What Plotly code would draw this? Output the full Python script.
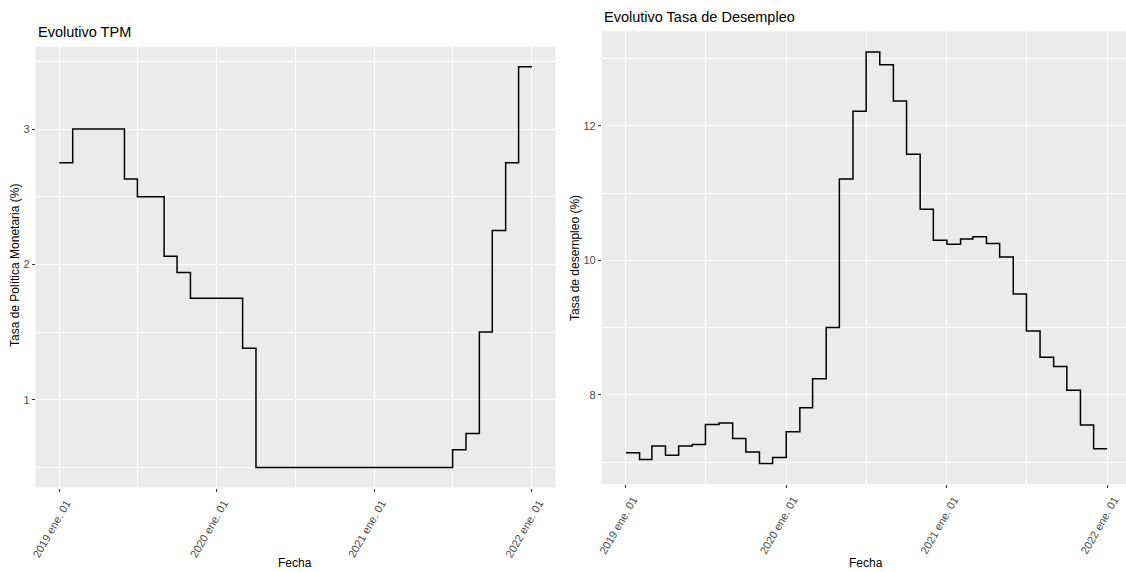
import pandas as pd
import plotly.graph_objects as go

# ---------------- data ----------------
fechas = [
    "2019-01-01", "2019-02-01", "2019-03-01", "2019-04-01", "2019-05-01", "2019-06-01",
    "2019-07-01", "2019-08-01", "2019-09-01", "2019-10-01", "2019-11-01", "2019-12-01",
    "2020-01-01", "2020-02-01", "2020-03-01", "2020-04-01", "2020-05-01", "2020-06-01",
    "2020-07-01", "2020-08-01", "2020-09-01", "2020-10-01", "2020-11-01", "2020-12-01",
    "2021-01-01", "2021-02-01", "2021-03-01", "2021-04-01", "2021-05-01", "2021-06-01",
    "2021-07-01", "2021-08-01", "2021-09-01", "2021-10-01", "2021-11-01", "2021-12-01",
    "2022-01-01",
]

tpm = [
    2.75, 3.00, 3.00, 3.00, 3.00, 2.63, 2.50, 2.50, 2.06, 1.94, 1.75, 1.75,
    1.75, 1.75, 1.38, 0.50, 0.50, 0.50, 0.50, 0.50, 0.50, 0.50, 0.50, 0.50,
    0.50, 0.50, 0.50, 0.50, 0.50, 0.50, 0.63, 0.75, 1.50, 2.25, 2.75, 3.46,
    3.46,
]

desempleo = [
    7.14, 7.04, 7.24, 7.10, 7.24, 7.26, 7.56, 7.58, 7.35, 7.15, 6.98, 7.07,
    7.45, 7.81, 8.24, 9.00, 11.21, 12.22, 13.10, 12.91, 12.37, 11.58, 10.76, 10.30,
    10.24, 10.32, 10.35, 10.25, 10.05, 9.50, 8.95, 8.56, 8.42, 8.07, 7.55, 7.20,
    7.20,
]

tick_fechas = ["2019-01-01", "2020-01-01", "2021-01-01", "2022-01-01"]
tick_labels = ["2019 ene. 01", "2020 ene. 01", "2021 ene. 01", "2022 ene. 01"]
minor_fechas = ["2019-07-01", "2020-07-01", "2021-07-01"]

tpm_yticks = [1, 2, 3]
tpm_yminor = [0.5, 1.5, 2.5, 3.5]
des_yticks = [8, 10, 12]
des_yminor = [7, 9, 11, 13]

# ---------------- layout helpers ----------------
W, H = 1126, 572
FONT = "Arial, Liberation Sans, sans-serif"
BG = "#EBEBEB"


def px_x(p):
    return p / W


def px_y(p):
    return 1 - p / H


def expanded(lo, hi, frac=0.05):
    span = hi - lo
    return lo - frac * span, hi + frac * span


d0 = pd.Timestamp(fechas[0])
d1 = pd.Timestamp(fechas[-1])
xr0, xr1 = expanded(d0, d1)
# right panel is cropped on its right edge by the image border
right_frac = 0.99
xr1_right = xr0 + (xr1 - xr0) * right_frac

tpm_range = expanded(min(tpm), max(tpm))
des_range = expanded(min(desempleo), max(desempleo))

fig = go.Figure()
fig.add_trace(go.Scatter(x=fechas, y=tpm, mode="lines", line=dict(color="black", width=1.5, shape="hv"),
                         xaxis="x", yaxis="y", showlegend=False, hoverinfo="x+y"))
fig.add_trace(go.Scatter(x=fechas, y=desempleo, mode="lines", line=dict(color="black", width=1.5, shape="hv"),
                         xaxis="x2", yaxis="y2", showlegend=False, hoverinfo="x+y"))

common_x = dict(
    type="date", tickmode="array", tickvals=tick_fechas, ticktext=tick_labels,
    tickangle=-60, ticks="outside", ticklen=3, tickcolor="#333333", tickwidth=1,
    tickfont=dict(family=FONT, size=11, color="#4D4D4D"),
    ticklabelshift=7, ticklabelstandoff=1,
    showgrid=True, gridcolor="white", gridwidth=1.4, zeroline=False, showline=False,
    automargin=False,
    minor=dict(tickmode="array", tickvals=minor_fechas, showgrid=True, gridcolor="white",
               gridwidth=0.7, ticks=""),
)
common_y = dict(
    tickmode="array", ticks="outside", ticklen=3, tickcolor="#333333", tickwidth=1,
    tickfont=dict(family=FONT, size=11, color="#4D4D4D"),
    showgrid=True, gridcolor="white", gridwidth=1.4, zeroline=False, showline=False,
    automargin=False,
)

fig.update_layout(
    width=W, height=H,
    margin=dict(l=0, r=0, t=0, b=0, pad=0),
    paper_bgcolor="white",
    plot_bgcolor=BG,
    xaxis=dict(common_x, domain=[px_x(35.7), px_x(555.6)], range=[xr0, xr1], anchor="y"),
    yaxis=dict(common_y, domain=[px_y(487.5), px_y(46.7)], range=list(tpm_range),
               tickvals=tpm_yticks, anchor="x",
               minor=dict(tickmode="array", tickvals=tpm_yminor, showgrid=True,
                          gridcolor="white", gridwidth=0.7, ticks="")),
    xaxis2=dict(common_x, domain=[px_x(601.9), 1.0], range=[xr0, xr1_right], anchor="y2"),
    yaxis2=dict(common_y, domain=[px_y(484), px_y(31.4)], range=list(des_range),
                tickvals=des_yticks, anchor="x2",
                minor=dict(tickmode="array", tickvals=des_yminor, showgrid=True,
                           gridcolor="white", gridwidth=0.7, ticks="")),
    font=dict(family=FONT),
)

ann = [
    dict(text="Evolutivo TPM", x=px_x(35.7), y=px_y(32), xanchor="left", yanchor="middle",
         font=dict(size=14.5, color="black")),
    dict(text="Evolutivo Tasa de Desempleo", x=px_x(601.9), y=px_y(17), xanchor="left",
         yanchor="middle", font=dict(size=14.5, color="black")),
    dict(text="Tasa de Política Monetaria (%)", x=px_x(15), y=px_y(266), textangle=-90,
         xanchor="center", yanchor="middle", font=dict(size=12, color="black")),
    dict(text="Tasa de desempleo (%)", x=px_x(575), y=px_y(258), textangle=-90,
         xanchor="center", yanchor="middle", font=dict(size=12, color="black")),
    dict(text="Fecha", x=px_x(295), y=px_y(563), xanchor="center", yanchor="middle",
         font=dict(size=12, color="black")),
    dict(text="Fecha", x=px_x(866), y=px_y(563), xanchor="center", yanchor="middle",
         font=dict(size=12, color="black")),
]
for a in ann:
    a.update(xref="paper", yref="paper", showarrow=False)
    a["font"]["family"] = FONT
fig.update_layout(annotations=ann)

fig.write_html("out.html")
